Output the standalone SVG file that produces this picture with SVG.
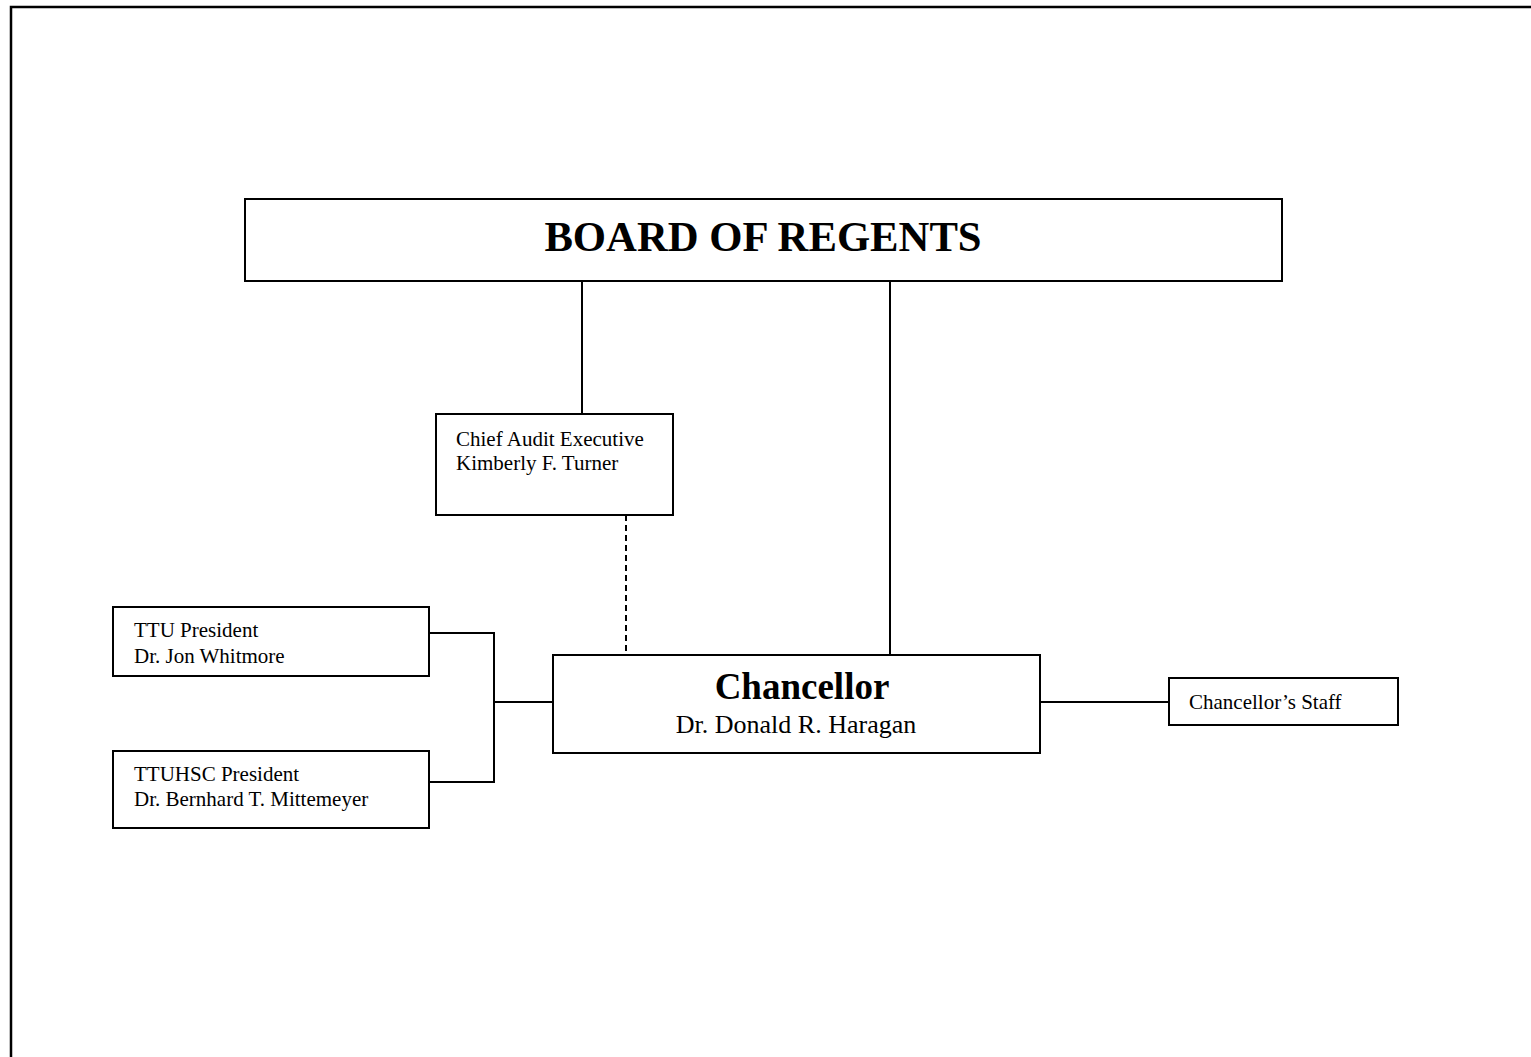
<svg xmlns="http://www.w3.org/2000/svg" width="1531" height="1057" viewBox="0 0 1531 1057">
<style>
.box{fill:#fff;stroke:#000;stroke-width:2}
.t{font-family:"Liberation Serif","Times New Roman",serif;fill:#000}
.s{font-size:21px}
.c{stroke:#000;stroke-width:2;fill:none}
</style>
<rect width="1531" height="1057" fill="#fff"/>
<path d="M11 1057 V7 H1531" fill="none" stroke="#000" stroke-width="2.5"/>
<g id="connectors">
<line class="c" x1="582" y1="281" x2="582" y2="414"/>
<line class="c" x1="890" y1="281" x2="890" y2="655"/>
<line class="c" x1="626" y1="515" x2="626" y2="655" stroke-dasharray="6,4"/>
<polyline class="c" points="429,633 494,633 494,782 429,782"/>
<line class="c" x1="494" y1="702" x2="553" y2="702"/>
<line class="c" x1="1040" y1="702" x2="1169" y2="702"/>
</g>
<g id="board">
<rect class="box" x="245" y="199" width="1037" height="82"/>
<text class="t" x="763" y="251" font-size="42.7" font-weight="bold" text-anchor="middle">BOARD OF REGENTS</text>
</g>
<g id="audit">
<rect class="box" x="436" y="414" width="237" height="101"/>
<text class="t s" x="456" y="446">Chief Audit Executive</text>
<text class="t s" x="456" y="470">Kimberly F. Turner</text>
</g>
<g id="ttu">
<rect class="box" x="113" y="607" width="316" height="69"/>
<text class="t s" x="134" y="637">TTU President</text>
<text class="t s" x="134" y="663">Dr. Jon Whitmore</text>
</g>
<g id="ttuhsc">
<rect class="box" x="113" y="751" width="316" height="77"/>
<text class="t s" x="134" y="781">TTUHSC President</text>
<text class="t s" x="134" y="806">Dr. Bernhard T. Mittemeyer</text>
</g>
<g id="chancellor">
<rect class="box" x="553" y="655" width="487" height="98"/>
<text class="t" x="802" y="699" font-size="37" font-weight="bold" text-anchor="middle">Chancellor</text>
<text class="t" x="796" y="733" font-size="26" text-anchor="middle">Dr. Donald R. Haragan</text>
</g>
<g id="staff">
<rect class="box" x="1169" y="678" width="229" height="47"/>
<text class="t s" x="1189" y="709">Chancellor’s Staff</text>
</g>
</svg>
